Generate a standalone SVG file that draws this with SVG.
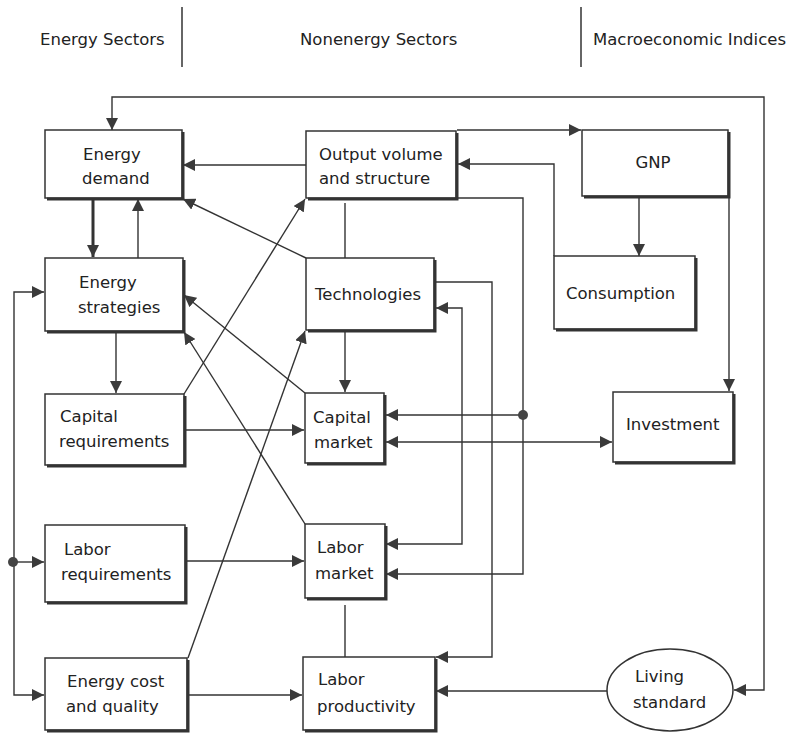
<svg xmlns="http://www.w3.org/2000/svg" width="795" height="735" viewBox="0 0 795 735">
<defs>
<marker id="ah" viewBox="0 0 10 10" refX="10" refY="5" markerWidth="12" markerHeight="12" markerUnits="userSpaceOnUse" orient="auto-start-reverse"><path d="M0,0 L10,5 L0,10 z" fill="#3a3a3a"/></marker>
<style>
.box{fill:#fff;stroke:#333;stroke-width:1.5}
.sh{fill:none;stroke:#333;stroke-width:3}
.t{font-family:"DejaVu Sans","Liberation Sans",sans-serif;font-size:16.5px;fill:#222}
.c{fill:none;stroke:#333;stroke-width:1.4}
.a{marker-end:url(#ah)}
.b{marker-start:url(#ah);marker-end:url(#ah)}
.sep{stroke:#333;stroke-width:1.5}
</style>
</defs>
<rect width="795" height="735" fill="#fff"/>
<g id="headers">
<text class="t" x="40" y="45">Energy Sectors</text>
<line class="sep" x1="182" y1="7" x2="182" y2="67"/>
<text class="t" x="300" y="45">Nonenergy Sectors</text>
<line class="sep" x1="581" y1="7" x2="581" y2="67"/>
<text class="t" x="593" y="45">Macroeconomic Indices</text>
</g>
<g id="connectors">
<path class="c b" d="M112,130 V97 H764 V690 H734"/>
<path class="c a" d="M457,130 H581"/>
<path class="c a" d="M729,196 V391"/>
<path class="c a" d="M639,197 V256"/>
<path class="c a" d="M554,256 V164 H458"/>
<path class="c a" d="M306,165 H183"/>
<path class="c" d="M345,203 V258"/>
<path class="c a" d="M457,198 H523 V574 H386"/>
<path class="c a" d="M523,415 H386"/>
<circle cx="523" cy="415" r="5" fill="#444"/>
<path class="c a" d="M435,282 H492 V657 H436"/>
<path class="c b" d="M436,308 H462 V544 H386"/>
<path class="c b" d="M386,442 H612"/>
<path class="c a" d="M345,331 V392"/>
<path class="c a" d="M93,199 V257" style="stroke-width:3"/>
<path class="c a" d="M138,258 V199"/>
<path class="c a" d="M116,331 V393"/>
<path class="c b" d="M44,292 H14 V695 H44"/>
<path class="c a" d="M14,562 H44"/>
<circle cx="13" cy="562" r="5" fill="#444"/>
<path class="c a" d="M185,430 H304"/>
<path class="c a" d="M186,561 H304"/>
<path class="c a" d="M188,695 H302"/>
<path class="c a" d="M607,691 H436"/>
<path class="c" d="M345,605 V657"/>
<path class="c a" d="M184,394 L305,199"/>
<path class="c a" d="M306,258 L183,199"/>
<path class="c a" d="M305,393 L184,295"/>
<path class="c a" d="M305,524 L184,332"/>
<path class="c a" d="M188,658 L305,331"/>
</g>
<g id="energy-demand">
<rect class="box" x="45" y="130" width="137" height="68"/>
<path class="sh" d="M183,132 V199 H47"/>
<text class="t" x="83" y="160">Energy</text>
<text class="t" x="82" y="184">demand</text>
</g>
<g id="output-volume">
<rect class="box" x="306" y="131" width="150" height="67"/>
<path class="sh" d="M457,133 V199 H308"/>
<text class="t" x="319" y="160">Output volume</text>
<text class="t" x="319" y="184">and structure</text>
</g>
<g id="gnp">
<rect class="box" x="582" y="130" width="146" height="66"/>
<path class="sh" d="M729,132 V197 H584"/>
<text class="t" x="653" y="168" text-anchor="middle">GNP</text>
</g>
<g id="energy-strategies">
<rect class="box" x="45" y="258" width="138" height="73"/>
<path class="sh" d="M184,260 V332 H47"/>
<text class="t" x="79" y="288">Energy</text>
<text class="t" x="78" y="313">strategies</text>
</g>
<g id="technologies">
<rect class="box" x="306" y="258" width="128" height="72"/>
<path class="sh" d="M435,260 V331 H308"/>
<text class="t" x="315" y="300">Technologies</text>
</g>
<g id="consumption">
<rect class="box" x="554" y="256" width="141" height="73"/>
<path class="sh" d="M696,258 V330 H556"/>
<text class="t" x="566" y="299">Consumption</text>
</g>
<g id="capital-requirements">
<rect class="box" x="45" y="394" width="139" height="71"/>
<path class="sh" d="M185,396 V466 H47"/>
<text class="t" x="60" y="422">Capital</text>
<text class="t" x="59" y="447">requirements</text>
</g>
<g id="capital-market">
<rect class="box" x="305" y="393" width="79" height="70"/>
<path class="sh" d="M385,395 V464 H307"/>
<text class="t" x="313" y="423">Capital</text>
<text class="t" x="314" y="448">market</text>
</g>
<g id="investment">
<rect class="box" x="613" y="392" width="120" height="70"/>
<path class="sh" d="M734,394 V463 H615"/>
<text class="t" x="626" y="430">Investment</text>
</g>
<g id="labor-requirements">
<rect class="box" x="45" y="525" width="140" height="77"/>
<path class="sh" d="M186,527 V603 H47"/>
<text class="t" x="64" y="555">Labor</text>
<text class="t" x="61" y="580">requirements</text>
</g>
<g id="labor-market">
<rect class="box" x="305" y="524" width="80" height="74"/>
<path class="sh" d="M386,526 V599 H307"/>
<text class="t" x="317" y="553">Labor</text>
<text class="t" x="315" y="579">market</text>
</g>
<g id="energy-cost">
<rect class="box" x="45" y="658" width="142" height="72"/>
<path class="sh" d="M188,660 V731 H47"/>
<text class="t" x="67" y="687">Energy cost</text>
<text class="t" x="66" y="712">and quality</text>
</g>
<g id="labor-productivity">
<rect class="box" x="303" y="657" width="132" height="73"/>
<path class="sh" d="M436,659 V731 H305"/>
<text class="t" x="318" y="685">Labor</text>
<text class="t" x="317" y="712">productivity</text>
</g>
<g id="living-standard">
<ellipse cx="670" cy="690" rx="63" ry="41" fill="#fff" stroke="#333" stroke-width="1.5"/>
<text class="t" x="635" y="682">Living</text>
<text class="t" x="633" y="708">standard</text>
</g>
</svg>
